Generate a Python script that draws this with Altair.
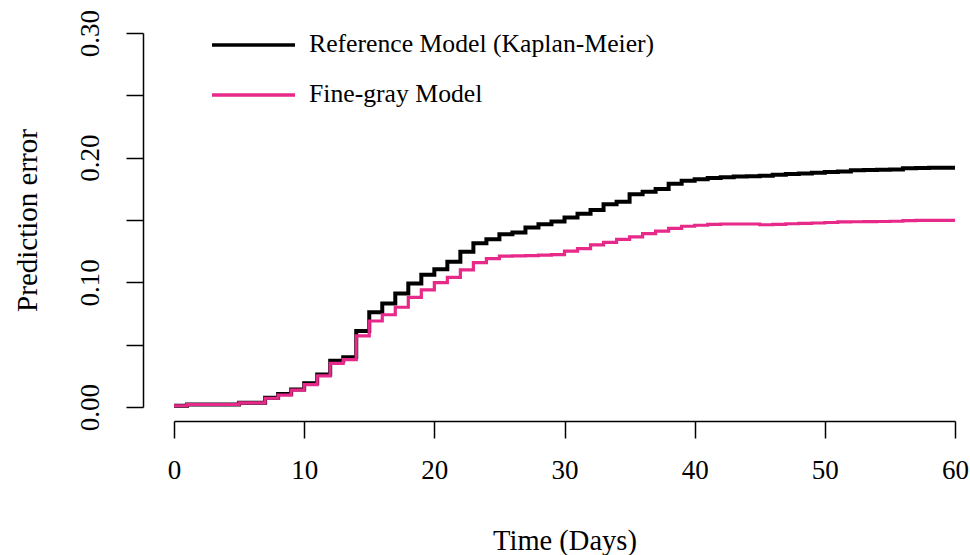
import altair as alt
import pandas as pd

# ---- data ----
days = list(range(0, 61))

ref_km = [0.001, 0.002, 0.002, 0.002, 0.002, 0.0035, 0.0035, 0.0075, 0.0105, 0.014,
          0.019, 0.026, 0.037, 0.040, 0.061, 0.076, 0.083, 0.091, 0.099, 0.106,
          0.1105, 0.1166, 0.1246, 0.1313, 0.1345, 0.1385, 0.140, 0.144, 0.1465, 0.1487,
          0.152, 0.155, 0.158, 0.1626, 0.1647, 0.1706, 0.1727, 0.1749, 0.179, 0.1815,
          0.1826, 0.1837, 0.1843, 0.1848, 0.1850, 0.1855, 0.1862, 0.1868, 0.1873, 0.1880,
          0.1885, 0.1890, 0.1900, 0.1902, 0.1904, 0.1906, 0.1915, 0.1918, 0.1920, 0.1920,
          0.1920]

fine_gray = [0.001, 0.002, 0.002, 0.002, 0.002, 0.0033, 0.0033, 0.007, 0.0096, 0.0136,
             0.018, 0.025, 0.035, 0.038, 0.057, 0.069, 0.074, 0.080, 0.088, 0.094,
             0.0997, 0.104, 0.110, 0.1158, 0.119, 0.121, 0.1212, 0.1215, 0.1218, 0.1222,
             0.125, 0.127, 0.130, 0.132, 0.1345, 0.1365, 0.139, 0.141, 0.1433, 0.145,
             0.1458, 0.1465, 0.1468, 0.1468, 0.1468, 0.1462, 0.1465, 0.147, 0.1473, 0.1476,
             0.148, 0.1485, 0.1486, 0.1487, 0.1488, 0.149, 0.1495, 0.1497, 0.1497, 0.1497,
             0.1497]

series_names = ["Reference Model (Kaplan-Meier)", "Fine-gray Model"]
series_colors = ["#000000", "#E7298A"]

x_ticks = [0, 10, 20, 30, 40, 50, 60]
y_ticks = [0.0, 0.05, 0.10, 0.15, 0.20, 0.25, 0.30]

FONT = "Liberation Serif"

df_ref = pd.DataFrame({"day": days, "err": ref_km})
df_fg = pd.DataFrame({"day": days, "err": fine_gray})

x_enc = alt.X(
    "day:Q",
    scale=alt.Scale(domain=[0, 60], nice=False, zero=False),
    axis=alt.Axis(
        values=x_ticks, title="Time (Days)", offset=14, grid=False,
        tickSize=17, tickWidth=1.5, domainWidth=1.5, domainColor="black", tickColor="black",
        labelFont=FONT, labelFontSize=27, labelColor="black", labelPadding=19,
        labelFlush=False, labelOverlap=False,
        titleFont=FONT, titleFontSize=28.5, titleFontWeight="normal", titleColor="black",
        titlePadding=43,
    ),
)
y_enc = alt.Y(
    "err:Q",
    scale=alt.Scale(domain=[0, 0.30], nice=False, zero=False),
    axis=alt.Axis(
        values=y_ticks, title="Prediction error", offset=31, grid=False,
        tickSize=17, tickWidth=1.5, domainWidth=1.5, domainColor="black", tickColor="black",
        labelExpr="round(datum.value*100) % 10 == 0 ? format(datum.value, '.2f') : ''",
        labelAngle=270, labelAlign="center", labelBaseline="bottom",
        labelFont=FONT, labelFontSize=27, labelColor="black", labelPadding=22,
        labelFlush=False, labelOverlap=False,
        titleFont=FONT, titleFontSize=29, titleFontWeight="normal", titleColor="black",
        titlePadding=34,
    ),
)

line_ref = alt.Chart(df_ref).mark_line(
    interpolate="step-after", color=series_colors[0], strokeWidth=4
).encode(x=x_enc, y=y_enc)

line_fg = alt.Chart(df_fg).mark_line(
    interpolate="step-after", color=series_colors[1], strokeWidth=3.2
).encode(x="day:Q", y="err:Q")

# ---- manual legend (top-left, like R's legend()) ----
leg_data = [pd.DataFrame({"label": [n]}) for n in series_names]
leg_y = [12, 62]
legend_layers = []
for i in range(2):
    legend_layers.append(
        alt.Chart(leg_data[i]).mark_rule(color=series_colors[i], strokeWidth=3.5).encode(
            x=alt.value(38), x2=alt.value(121), y=alt.value(leg_y[i])
        )
    )
    legend_layers.append(
        alt.Chart(leg_data[i]).mark_text(
            align="left", baseline="middle", font=FONT, fontSize=25.7, color="black"
        ).encode(x=alt.value(135), y=alt.value(leg_y[i] - 1), text="label:N")
    )

chart = alt.layer(line_ref, line_fg, *legend_layers).properties(
    width=781,
    height=374,
    autosize=alt.AutoSizeParams(type="none"),
    padding={"left": 174, "top": 33, "right": 15, "bottom": 148},
    background="white",
).configure_view(stroke=None)

chart.save("out.html", embed_options={"renderer": "svg", "actions": False})
